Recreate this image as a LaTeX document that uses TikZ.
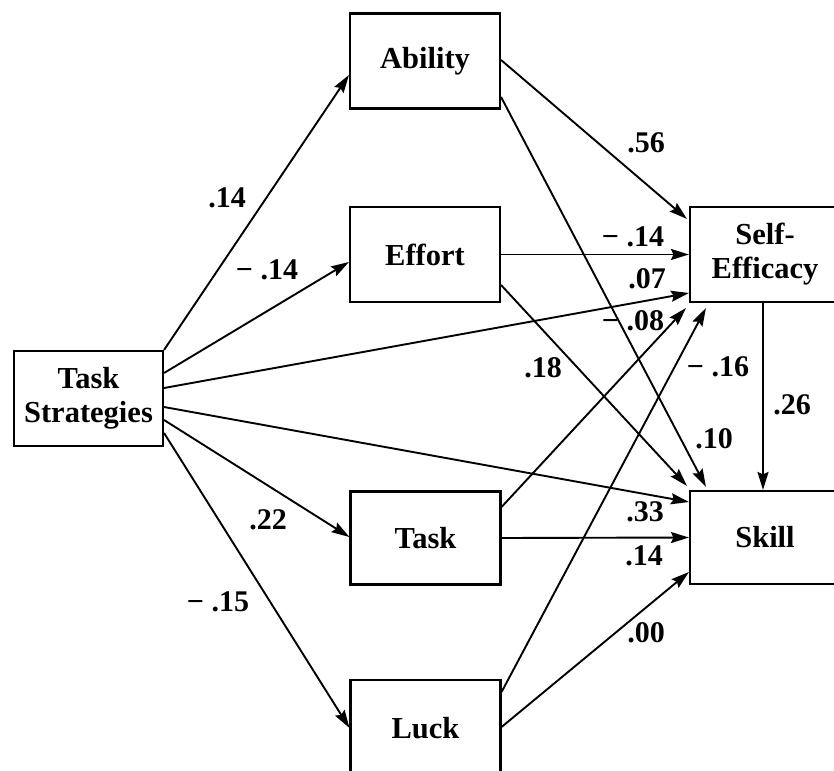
\documentclass[tikz,border=0pt]{standalone}
\usepackage{fontspec}
\setmainfont{Liberation Serif}
\usetikzlibrary{arrows.meta,calc}
\begin{document}
\begin{tikzpicture}[x=1pt,y=-1pt,
 box/.style={draw,line width=2.1pt,minimum width=150pt,minimum height=95pt,inner sep=0pt,align=center,font=\fontsize{30.5}{35}\selectfont\bfseries},
 lab/.style={inner sep=0pt,font=\fontsize{30}{35}\selectfont\bfseries},
 arr/.style={line width=1.9pt,-{Stealth[length=18pt,width=11pt,inset=2.5pt]}}]
\useasboundingbox (0,0) rectangle (834,770);
\clip (0,0) rectangle (834,770);
\fill[white] (0,0) rectangle (834,770);
% boxes
\node[box,minimum width=149pt] (TS) at (88.5,398.5) {Task\\[-1pt]Strategies};
\node[box] (Ab) at (425,61) {Ability};
\node[box] (Ef) at (425,254.5) {Effort};
\node[box,minimum height=93pt] (Ta) at (425.5,538) {Task};
\node[box,minimum height=96pt] (Lu) at (425.5,728) {Luck};
\node[box] (SE) at (765,254.5) {Self-\\[-1pt]Efficacy};
\node[box,minimum height=93pt] (Sk) at (765,537.5) {Skill};
% connectors
\draw[arr] (TS.north east) -- ($(Ab.west)+(0,14)$);
\draw[arr] ($(TS.east)+(0,-25.5)$) -- ($(Ef.west)+(0,7.5)$);
\draw[arr] ($(TS.east)+(0,-10.5)$) -- ($(SE.west)+(0,38.5)$);
\draw[arr] ($(TS.east)+(0,8.5)$) -- ($(Sk.west)+(0,-35.5)$);
\draw[arr] ($(TS.east)+(0,21.5)$) -- ($(Ta.west)+(0,-1)$);
\draw[arr] ($(TS.east)+(0,34.5)$) -- ($(Lu.west)+(0,0)$);
\draw[arr] ($(Ab.east)+(0,-1)$) -- ($(SE.north west)+(-2,13)$);
\draw[arr] ($(Ab.east)+(0,36)$) -- ($(Sk.north west)+(17,-3)$);
\draw[arr] (Ef.east) -- (SE.west);
\draw[arr] ($(Ef.east)+(0,30.5)$) -- ($(Sk.north west)+(-2,-4)$);
\draw[arr] ($(Ta.east)+(0,-31)$) -- ($(SE.south west)+(-3,5)$);
\draw[arr] ($(Lu.east)+(0,-36)$) -- ($(SE.south west)+(17,5)$);
\draw[arr] (Ta.east) -- (Sk.west);
\draw[arr] ($(Lu.east)+(0,-1)$) -- ($(Sk.west)+(0,34.5)$);
\draw[arr] ($(SE.south)+(-2,0)$) -- ($(Sk.north)+(-2,0)$);
% labels
\node[lab] (l1) at (227,198) {.14};
\node[lab] (l2) at (267,270) {− .14};
\node[lab] (l3) at (268,520) {.22};
\node[lab] (l4) at (218,602) {− .15};
\node[lab] (l5) at (646,143) {.56};
\node[lab] (l6) at (633,237) {− .14};
\node[lab] (l7) at (647,279) {.07};
\node[lab] (l8) at (633,321) {− .08};
\node[lab] (l9) at (543,368) {.18};
\node[lab] (l10) at (718,367) {− .16};
\node[lab] (l11) at (792,405) {.26};
\node[lab] (l12) at (714,439) {.10};
\node[lab] (l13) at (645,512) {.33};
\node[lab] (l14) at (644,556) {.14};
\node[lab] (l15) at (646,633) {.00};
\end{tikzpicture}
\end{document}
